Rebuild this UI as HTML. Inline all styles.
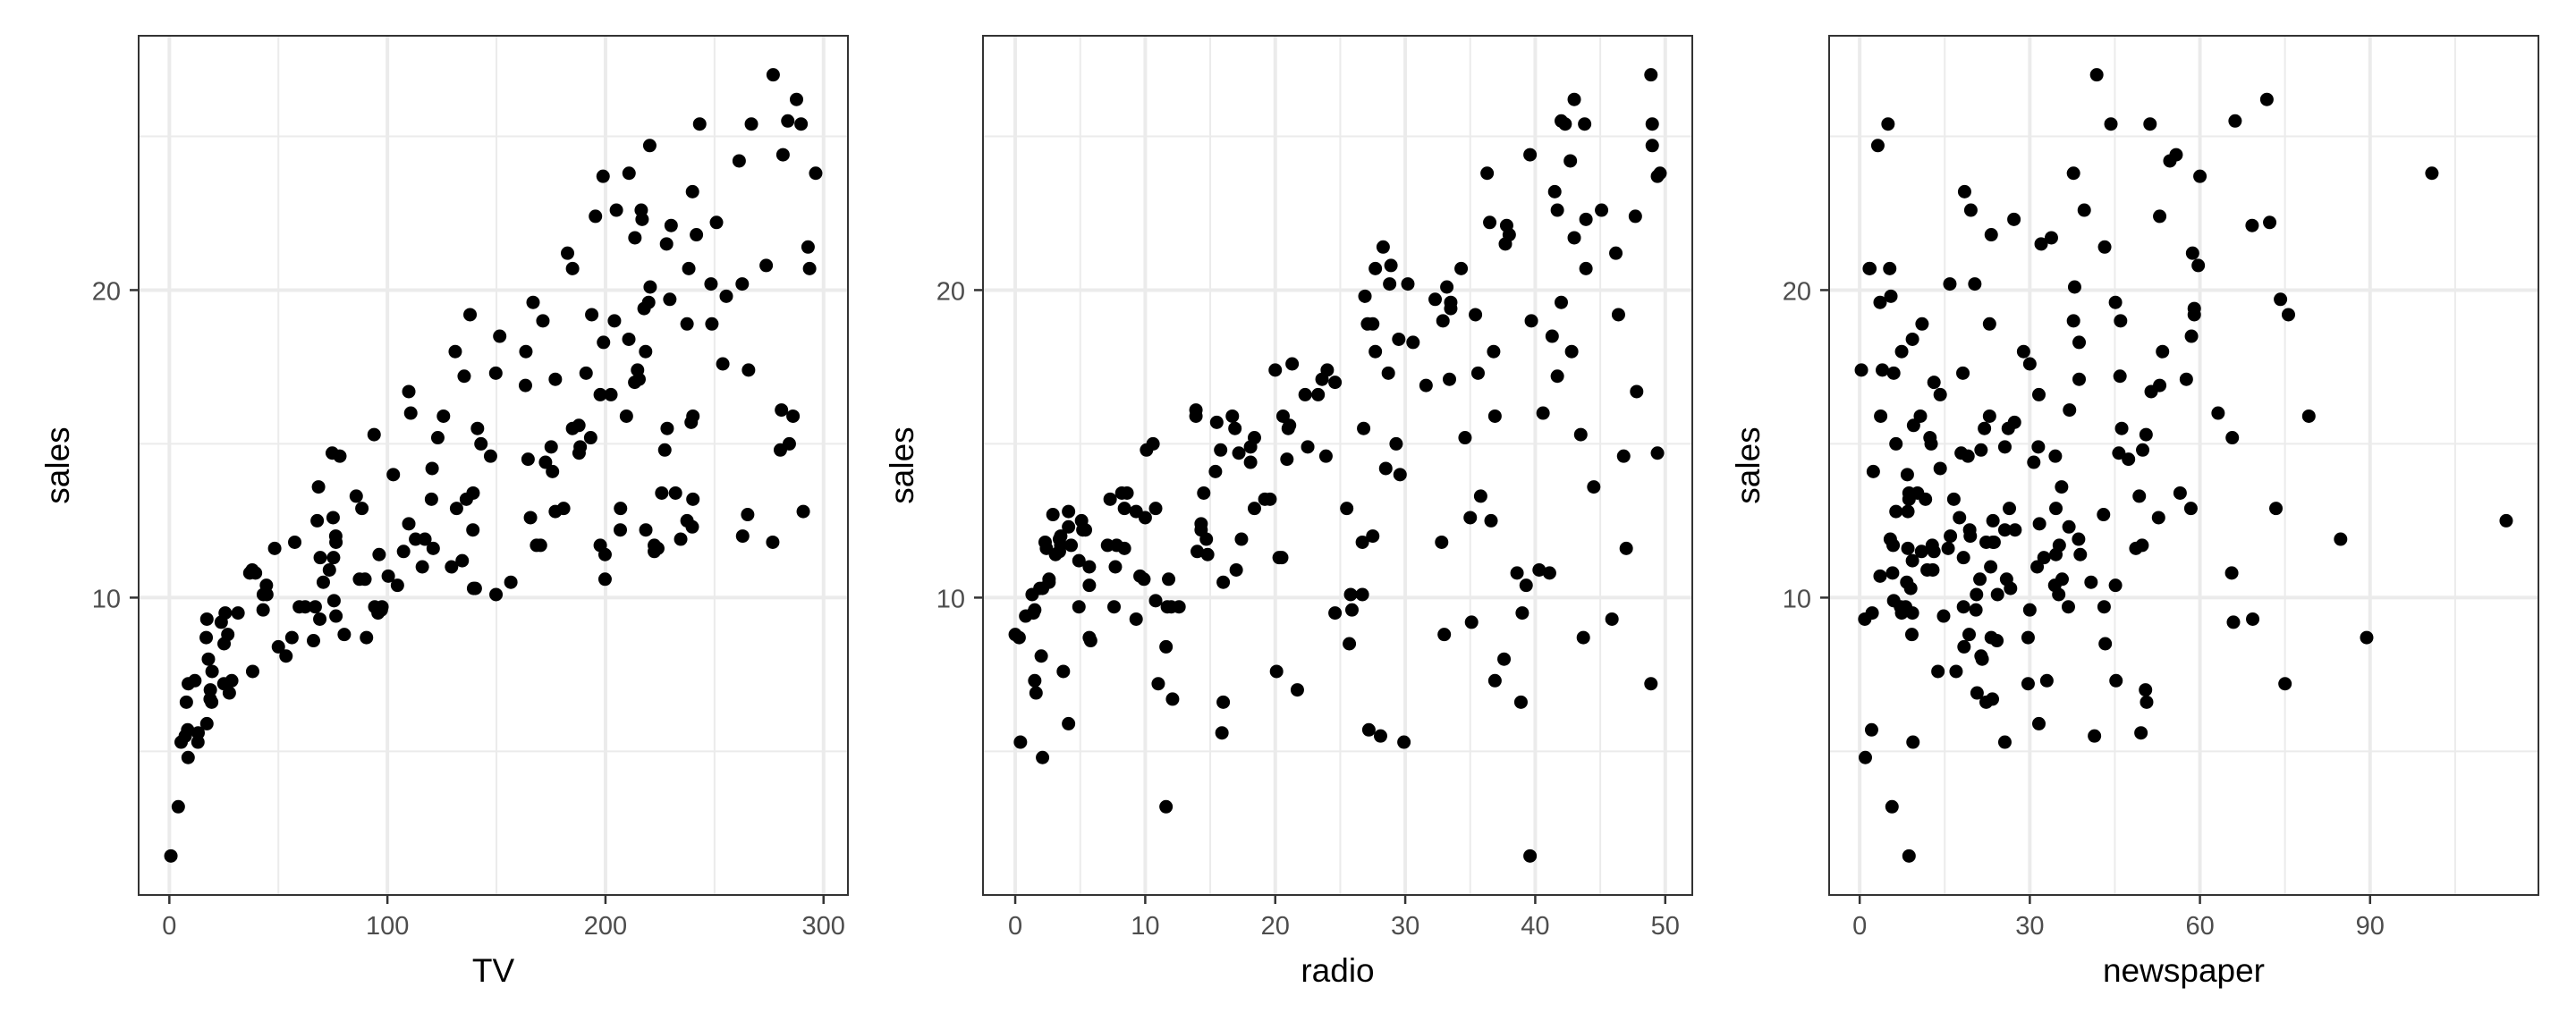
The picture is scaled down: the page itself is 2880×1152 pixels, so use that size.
<!DOCTYPE html>
<html><head><meta charset="utf-8"><style>
html,body{margin:0;padding:0;background:#fff;}
svg{display:block;font-family:"Liberation Sans",Arial,sans-serif;}
</style></head><body>
<svg id="chart" width="2880" height="1152" viewBox="0 0 2880 1152"></svg>
<script>
const tv=[230.1,44.5,17.2,151.5,180.8,8.7,57.5,120.2,8.6,199.8,66.1,214.7,23.8,97.5,204.1,195.4,67.8,281.4,69.2,147.3,218.4,237.4,13.2,228.3,62.3,262.9,142.9,240.1,248.8,70.6,292.9,112.9,97.2,265.6,95.7,290.7,266.9,74.7,43.1,228,202.5,177,293.6,206.9,25.1,175.1,89.7,239.9,227.2,66.9,199.8,100.4,216.4,182.6,262.7,198.9,7.3,136.2,210.8,210.7,53.5,261.3,239.3,102.7,131.1,69,31.5,139.3,237.4,216.8,199.1,109.8,26.8,129.4,213.4,16.9,27.5,120.5,5.4,116,76.4,239.8,75.3,68.4,213.5,193.2,76.3,110.7,88.3,109.8,134.3,28.6,217.7,250.9,107.4,163.3,197.6,184.9,289.7,135.2,222.4,296.4,280.2,187.9,238.2,137.9,25,90.4,13.1,255.4,225.8,241.7,175.7,209.6,78.2,75.1,139.2,76.4,125.7,19.4,141.3,18.8,224,123.1,229.5,87.2,7.8,80.2,220.3,59.6,0.7,265.2,8.4,219.8,36.9,48.3,25.6,273.7,43,184.9,73.4,193.7,220.5,104.6,96.2,140.3,240.1,243.2,38,44.7,280.7,121,197.6,171.3,187.8,4.1,93.9,149.8,11.7,131.7,172.5,85.7,188.4,163.5,117.2,234.5,17.9,206.8,215.4,284.3,50,164.5,19.6,168.4,222.4,276.9,248.4,170.2,276.7,165.6,156.6,218.5,56.2,287.6,253.8,205,139.5,191.1,286,18.7,39.5,75.5,17.2,166.8,149.7,38.2,94.2,177,283.6,232.1];
const radio=[37.8,39.3,45.9,41.3,10.8,48.9,32.8,19.6,2.1,2.6,5.8,24,35.1,7.6,32.9,47.7,36.6,39.6,20.5,23.9,27.7,5.1,15.9,16.9,12.6,3.5,29.3,16.7,27.1,16,28.3,17.4,1.5,20,1.4,4.1,43.8,49.4,26.7,37.7,22.3,33.4,27.7,8.4,25.7,22.5,9.9,41.5,15.8,11.7,3.1,9.6,41.7,46.2,28.8,49.4,28.1,19.2,49.6,29.5,2,42.7,15.5,29.6,42.8,9.3,24.6,14.5,27.5,43.9,30.6,14.3,33,5.7,24.6,43.7,1.6,28.5,29.9,7.7,26.7,4.1,20.3,44.5,43,18.4,27.5,40.6,25.5,47.8,4.9,1.5,33.5,36.5,14,31.6,3.5,21,42.3,41.7,4.3,36.3,10.1,17.2,34.3,46.4,11,0.3,0.4,26.9,8.2,38,15.4,20.6,46.8,35,14.3,0.8,36.9,16,26.8,21.7,2.4,34.6,32.3,11.8,38.9,0,49,12,39.6,2.9,27.2,33.5,38.6,47,39,28.9,25.9,43.9,17,35.4,33.2,5.7,14.8,1.9,7.3,49,40.3,25.8,13.9,8.4,23.3,39.7,21.1,11.6,43.5,1.3,36.9,18.4,18.1,35.8,18.1,36.8,14.7,3.4,37.6,5.2,23.6,10.6,11.6,20.9,20.1,7.1,3.4,48.9,30.2,7.8,2.3,10,2.6,5.4,5.7,43,21.3,45.1,2.1,28.7,13.9,12.1,41.1,10.8,4.1,42,35.6,3.7,4.9,9.3,42,8.6];
const newspaper=[69.2,45.1,69.3,58.5,58.4,75,23.5,11.6,1,21.2,24.2,4,65.9,7.2,46,52.9,114,55.8,18.3,19.1,53.4,23.5,49.6,26.2,18.3,19.5,12.6,22.9,22.9,40.8,43.2,38.6,30,0.3,7.4,8.5,5,45.7,35.1,32,31.6,38.7,1.8,26.4,43.3,31.5,35.7,18.5,49.9,36.8,34.6,3.6,39.6,58.7,15.9,60,41.4,16.6,37.7,9.3,21.4,54.7,27.3,8.4,28.9,0.9,2.2,10.2,11,27.2,38.7,31.7,19.3,31.3,13.1,89.4,20.7,14.2,9.4,23.1,22.3,36.9,32.5,35.6,33.8,65.7,16,63.2,73.4,51.4,9.3,33,59,72.3,10.9,52.9,5.9,22,51.2,45.9,49.8,100.9,21.4,17.9,5.3,59,29.7,23.2,25.6,5.5,56.5,23.2,2.4,10.7,34.5,52.7,25.6,14.8,79.2,22.3,46.2,50.4,15.6,12.4,74.2,25.9,50.6,9.2,3.2,43.1,8.7,43,2.1,45.1,65.6,8.5,9.3,59.7,20.5,1.7,12.9,75.6,37.9,34.4,38.9,9,8.7,44.3,11.9,20.6,37,48.7,14.2,37.7,9.5,5.7,50.5,24.3,45.2,34.6,30.7,49.3,25.6,7.4,5.4,84.8,21.6,19.4,57.6,6.4,18.4,47.4,17,12.8,13.1,41.8,20.3,35.2,23.7,17.6,8.3,27.4,29.7,71.8,30,19.6,26.6,18.2,3.7,23.4,5.8,6,31.6,3.6,6,13.8,8.1,6.4,66.2,8.7];
const sales=[22.1,10.4,9.3,18.5,12.9,7.2,11.8,13.2,4.8,10.6,8.6,17.4,9.2,9.7,19,22.4,12.5,24.4,11.3,14.6,18,12.5,5.6,15.5,9.7,12,15,15.9,18.9,10.5,21.4,11.9,9.6,17.4,9.5,12.8,25.4,14.7,10.1,21.5,16.6,17.1,20.7,12.9,8.5,14.9,10.6,23.2,14.8,9.7,11.4,10.7,22.6,21.2,20.2,23.7,5.5,13.2,23.8,18.4,8.1,24.2,15.7,14,18,9.3,9.5,13.4,18.9,22.3,18.3,12.4,8.8,11,17,8.7,6.9,14.2,5.3,11,11.8,12.3,11.3,13.6,21.7,15.2,12,16,12.9,16.7,11.2,7.3,19.4,22.2,11.5,16.9,11.7,15.5,25.4,17.2,11.7,23.8,14.8,14.7,20.7,19.2,7.2,8.7,5.3,19.8,13.4,21.8,14.1,15.9,14.6,12.6,12.2,9.4,15.9,6.6,15.5,7,11.6,15.2,19.7,10.6,6.6,8.8,24.7,9.7,1.6,12.7,5.7,19.6,10.8,11.6,9.5,20.8,9.6,20.7,10.9,19.2,20.1,10.4,11.4,10.3,13.2,25.4,10.9,10.1,16.1,11.6,16.6,19,15.6,3.2,15.3,10.1,7.3,12.9,14.4,13.3,14.9,18,11.9,11.9,8,12.2,17.1,15,8.4,14.5,7.6,11.7,11.5,27,20.2,11.7,11.8,12.6,10.5,12.2,8.7,26.2,17.6,22.6,10.3,17.3,15.9,6.7,10.8,9.9,5.9,19.6,17.3,7.6,9.7,12.8,25.5,13.4];
const salesTicks=[10,20];
const tvTicks=[0,100,200,300];
const radioTicks=[0,10,20,30,40,50];
const newsTicks=[0,30,60,90];

const NS="http://www.w3.org/2000/svg";
const svg=document.getElementById('chart');
function mk(tag,attrs,parent){const e=document.createElementNS(NS,tag);for(const k in attrs)e.setAttribute(k,attrs[k]);(parent||svg).appendChild(e);return e;}
function rng(a){const mn=Math.min(...a),mx=Math.max(...a),d=(mx-mn)*0.05;return [mn-d,mx+d];}
const TOP=40,BOT=1001;
const panels=[
 {name:'tv',x:tv,ticks:tvTicks,title:'TV',L:155,R:948},
 {name:'radio',x:radio,ticks:radioTicks,title:'radio',L:1099,R:1892},
 {name:'newspaper',x:newspaper,ticks:newsTicks,title:'newspaper',L:2045,R:2838}
];
const [ymin,ymax]=rng(sales);
const sy=v=>BOT-(v-ymin)/(ymax-ymin)*(BOT-TOP);
panels.forEach(p=>{
 const g=mk('g',{});
 
 
 const [xmin,xmax]=rng(p.x);
 const sx=v=>p.L+(v-xmin)/(xmax-xmin)*(p.R-p.L);
 const step=p.ticks[1]-p.ticks[0];
 // minor x grid
 const xm=[];for(let i=0;i<=p.ticks.length;i++){xm.push(p.ticks[0]+(i-0.5)*step);}
 xm.forEach(v=>{if(v>xmin&&v<xmax){const l=mk('line',{x1:sx(v),x2:sx(v),y1:TOP,y2:BOT,stroke:'#ebebeb','stroke-width':2},g);}});
 const ym=[5,15,25];
 ym.forEach(v=>{if(v>ymin&&v<ymax){const l=mk('line',{x1:p.L,x2:p.R,y1:sy(v),y2:sy(v),stroke:'#ebebeb','stroke-width':2},g);}});
 p.ticks.forEach(v=>{const l=mk('line',{x1:sx(v),x2:sx(v),y1:TOP,y2:BOT,stroke:'#ebebeb','stroke-width':4},g);});
 salesTicks.forEach(v=>{const l=mk('line',{x1:p.L,x2:p.R,y1:sy(v),y2:sy(v),stroke:'#ebebeb','stroke-width':4},g);});
 // points
 p.x.forEach((v,i)=>{const c=mk('circle',{cx:sx(v),cy:sy(sales[i]),r:7.5,fill:'#000'},g);});
 const b=mk('rect',{x:p.L,y:TOP,width:p.R-p.L,height:BOT-TOP,fill:'none',stroke:'#333','stroke-width':2},g);
 
 p.ticks.forEach(v=>{
  mk('line',{x1:sx(v),x2:sx(v),y1:BOT,y2:BOT+10,stroke:'#333','stroke-width':2.5},g);
  const t=mk('text',{x:sx(v),y:BOT+44,'text-anchor':'middle','font-size':29,fill:'#4d4d4d'},g);
  t.textContent=v;
 });
 salesTicks.forEach(v=>{
  mk('line',{x1:p.L-10,x2:p.L,y1:sy(v),y2:sy(v),stroke:'#333','stroke-width':2.5},g);
  const t=mk('text',{x:p.L-20,y:sy(v)+11,'text-anchor':'end','font-size':29,fill:'#4d4d4d'},g);
  t.textContent=v;
 });
 const xt=mk('text',{x:(p.L+p.R)/2,y:1098,'text-anchor':'middle','font-size':37,fill:'#000'},g);
 xt.textContent=p.title;
 const yx=p.L-78,yc=(TOP+BOT)/2;
 const yt=mk('text',{x:yx,y:yc,'text-anchor':'middle','font-size':37,fill:'#000',transform:`rotate(-90 ${yx} ${yc})`},g);
 yt.textContent='sales';
});
</script>
</body></html>
